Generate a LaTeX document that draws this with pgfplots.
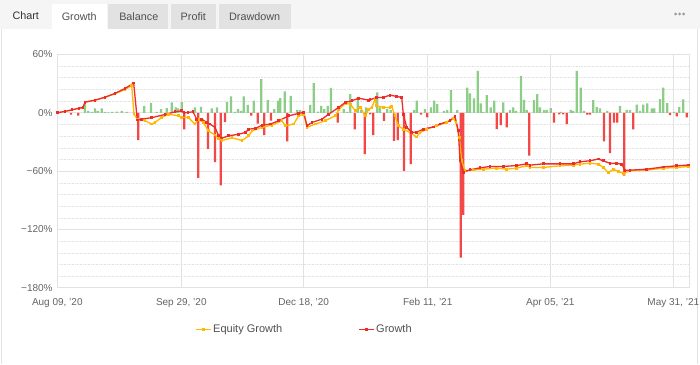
\documentclass[border=0pt]{standalone}
\usepackage{pgfplots}
\pgfplotsset{compat=1.18}
\usepackage{fontspec}
\setmainfont{Liberation Sans}
\definecolor{growthred}{RGB}{238,44,44}
\definecolor{equityorange}{RGB}{255,183,0}
\definecolor{bargreen}{RGB}{140,205,135}
\definecolor{barred}{RGB}{244,72,72}
\definecolor{tabgrey}{RGB}{226,226,226}
\definecolor{barbg}{RGB}{245,245,245}
\definecolor{gridgrey}{RGB}{226,226,226}
\definecolor{labelgrey}{RGB}{100,100,100}
\definecolor{tabtext}{RGB}{80,80,80}

\pgfplotstableread{
x y
85 9.7
88.3 2
91.7 1
95 4.5
97.7 2
101.7 4.5
105 1
108.3 0.5
112.3 1
116.7 1.3
121.7 2
126.7 1
144.3 7.2
151 10
156.7 1
161 3.8
166.7 4.8
171.7 10.7
175.7 5.5
178.3 4.5
181.7 11.3
195 5.5
201 6.2
211.7 4.5
217 5.5
227 11.3
231 16.8
234.7 1
238 3.8
241 2
243.7 16.8
247.7 8.2
253.7 12.4
261.3 34.7
267.7 13
274.3 3.8
278 12.4
280.3 15
284.7 22
290.7 17.5
297.3 2.7
300.3 2.7
310.3 8.2
313.7 30.6
318 1.3
321.3 7.2
324.3 3.8
327.7 7.2
331 25.7
343.7 3.8
347.3 1
350.3 19.2
357.7 16.5
361.3 2.7
366 5.5
377.3 21
380 5.5
387.3 3.8
390.7 2.7
414 3
416.7 12.4
425 3.8
431 5.5
434.3 12.4
437.3 9
444 2
447.3 2.7
451 23.4
457.3 2.7
467.3 26
470 20
474 14.8
477.7 43.2
480.7 9.7
483.3 1
486.7 18.2
490.7 5.5
494.3 12.4
503.3 10.7
510 2.7
513.3 5.5
516 2
521 38
524 13.4
526.7 2.7
534 13
537.3 19.2
540 5.5
544 2.7
546.7 3
550.7 4.8
560.7 1
570.7 3
573.3 2
576.7 43.2
580.7 26
584 2
593.3 13
596.7 5.8
600 4.5
607.3 2
620 7.2
626.7 3
630 2.7
636.7 8.5
640 2
643.3 8.5
647.3 9.7
651.7 4.5
654.3 4.5
660 14
663.3 26
667.3 10
674 1
679.3 5.8
683.3 13.7
}\greenbars

\pgfplotstableread{
x y
71 -2
78.3 -3
138.3 -28
184.3 -17
198.3 -67
208 -37
215 -50.7
220.7 -74.7
225 -9.6
251.3 -3
257.7 -11
264.3 -23
271 -8
287.3 -29.4
337.7 -10
354.7 -17
364.7 -42.5
370.3 -1.5
373.3 -23
384 -8.2
394 -28.8
397.7 -28
404 -59.7
410.7 -52.8
421 -2
427.3 -4.8
460.7 -149
463.3 -105
496.7 -16.8
500.7 -12.7
506.7 -15
529.3 -44
554 -10
559.3 -1.5
563.3 -1.5
566.7 -11.6
587.3 -2
590 -2
604 -29.4
610 -41.5
614 -10
617.3 -10
624.3 -64.5
633.3 -17
670 -2.3
676.7 -3.8
686.7 -4.8
}\redbars

\pgfplotstableread{
x y
57.3 0
65 1.5
72 3
79 4.5
83 5
85 11
95 13
105 16
115 19.5
125 24
131.7 28
134 -1.3
137.3 -6.5
145 -8.2
151.7 -11.6
155 -9.9
161.7 -4.8
168.3 -1.4
178.3 -3.1
181.7 -4.8
188.3 -4.8
195 -11.6
198.3 -6.5
203.3 -9.9
208.3 -18.5
215 -22.9
218.7 -26.7
222 -28.5
232 -25.7
242 -28.5
248.7 -23.7
252 -18.5
262 -15
272 -12.7
282 -8.2
285.3 -13.4
293.7 -11.6
298.7 -3.1
303.7 -1.4
307 -15
315.3 -11.6
325.3 -8.2
335.3 -3.1
338.7 2.8
345.3 9.7
350.3 8.9
355.3 2
360.3 5.5
365.3 -3.1
368.7 3.8
372 5.5
375 14.1
376.7 7.2
383.3 5.5
390 5.5
391.7 6.5
395 -3.1
398.3 -13.4
403.3 -16.8
410 -20.3
416.7 -24.8
420 -20.3
426.7 -16.8
436.7 -13.4
446.7 -9.9
453.3 -5.5
456 -9.9
459.3 -25.4
461.7 -49.3
465 -59.6
473.3 -58.9
483.3 -57.9
496.7 -56.9
506.7 -57.9
516.7 -56.9
526.7 -54.5
530 -56.2
543.3 -56.2
560 -54.5
573.3 -53.8
580 -52.8
590 -51.8
598.3 -52.8
603.3 -56.2
608.3 -61.4
613.3 -58
618.3 -60.3
623.3 -62.4
630 -59.6
646.7 -58.9
663.3 -56.9
676.7 -56.2
688.3 -55.2
}\equity

\pgfplotstableread{
x y
57.3 0
65 1.5
72 3
79 4.8
83 5.5
85 11
95 13
105 16
115 20
125 25
133.7 30.6
137.3 -7.5
141.7 -6.5
151.7 -5
165 -1.7
175 1
181.7 2
184 0
188 0.4
193 1
196.7 -6.5
201.7 -6.5
206.7 -9.9
210 -11.6
215 -15
218.7 -23.7
222 -26
228.7 -23.7
238.7 -22
245.3 -20.3
248.7 -16.8
255.3 -16.1
262 -12.7
270.3 -11.6
278.7 -8.2
288.7 -3.1
298.7 -0.6
303.7 0.4
307 -13.4
312 -9.9
322 -6.5
328.7 -1.4
338.7 5.5
345.3 10.7
352 12.4
358.7 15
368.7 13
370 13.4
376.7 15.8
383.3 15.8
390 18.2
396.7 16.8
401.7 15.8
403.3 -1.4
406.7 -15
411.7 -20
416.7 -20
423.3 -16.8
433.3 -14.5
440 -11.6
450 -8.2
455 -3.7
458.3 -18.5
460 -49.3
463.3 -61
470 -58.6
480 -56.6
490 -55.2
503.3 -55.2
516.7 -54.2
526.7 -52.5
530 -53.8
543.3 -52.5
560 -52.5
573.3 -52.5
580 -50.4
590 -49.3
598.3 -47.6
603.3 -49.3
610 -52
616.7 -52
621.7 -52.8
625 -59
630 -59
646.7 -58
663.3 -55.7
676.7 -54.5
688.3 -53.7
}\growth

\begin{document}
\begin{tikzpicture}[x=1pt,y=1pt]
\path[use as bounding box, fill=white] (0,0) rectangle (700,364);
% top tab bar
\fill[barbg] (0,335) rectangle (700,364);
\fill[white] (52,335) rectangle (107,360);
\fill[tabgrey] (108,335) rectangle (168,360);
\fill[tabgrey] (171,335) rectangle (216,360);
\fill[tabgrey] (219,335) rectangle (291,360);
\draw[gridgrey, line width=0.8pt] (1.5,0) -- (1.5,335);
\draw[gridgrey, line width=0.8pt] (697.5,0) -- (697.5,335);
\node[font=\fontsize{10.8}{13}\selectfont, text=black!80] at (25.8,348) {Chart};
\node[font=\fontsize{10.8}{13}\selectfont, text=tabtext] at (79.2,347.5) {Growth};
\node[font=\fontsize{10.8}{13}\selectfont, text=tabtext] at (138.8,347.5) {Balance};
\node[font=\fontsize{10.8}{13}\selectfont, text=tabtext] at (193.3,347.5) {Profit};
\node[font=\fontsize{10.8}{13}\selectfont, text=tabtext] at (254.7,347.5) {Drawdown};
\fill[black!40] (675.5,350) circle (1.5) (679.5,350) circle (1.5) (683.5,350) circle (1.5);

\begin{axis}[
  at={(57.3,78.3)}, anchor=south west,
  scale only axis, width=631.7pt, height=233.4pt,
  xmin=57.3, xmax=689, ymin=-180, ymax=60,
  xtick={57.3,181.3,303.7,427.7,550.3,673.3},
  xticklabels={{Aug 09, '20},{Sep 29, '20},{Dec 18, '20},{Feb 11, '21},{Apr 05, '21},{May 31, '21}},
  ytick={-180,-120,-60,0,60},
  yticklabels={−180\%,−120\%,−60\%,0\%,60\%},
  minor ytick={-168,-156,-144,-132,-108,-96,-84,-72,-48,-36,-24,-12,12,24,36,48},
  major tick length=0pt, minor tick length=0pt,
  xmajorgrids, ymajorgrids, yminorgrids,
  major grid style={gridgrey, line width=0.8pt},
  minor grid style={gridgrey, line width=0.6pt, densely dotted},
  axis line style={gridgrey, line width=1pt},
  tick label style={font=\fontsize{10}{12}\selectfont, text=labelgrey},
  /pgf/number format/assume math mode=true,
  yticklabel style={inner sep=0pt, xshift=-4.5pt},
  xticklabel style={inner sep=0pt, yshift=-10pt},
  legend style={at={(axis description cs:0.391,-0.177)}, anchor=center,
    draw=none, fill=none, font=\fontsize{11}{13}\selectfont, text=tabtext,
    /tikz/every even column/.append style={column sep=74pt},
    nodes={inner sep=1.8pt}},
  legend columns=2,
  legend image code/.code={\draw[#1, mark repeat=2, mark phase=2] plot coordinates {(0pt,0pt) (7.5pt,0pt) (15pt,0pt)};},
]
\addplot[ybar, bar width=2.3, bar shift=0pt, draw=none, fill=bargreen, forget plot] table[x=x,y=y] {\greenbars};
\addplot[ybar, bar width=2.3, bar shift=0pt, draw=none, fill=barred, forget plot] table[x=x,y=y] {\redbars};
\addplot[equityorange, line width=1.3pt, mark=square*, mark size=0.75pt, mark options={solid, draw=none, fill=equityorange!85!black}] table[x=x,y=y] {\equity};
\addlegendentry{Equity Growth}
\addplot[growthred, line width=1.3pt, mark=square*, mark size=0.75pt, mark options={solid, draw=none, fill=growthred!85!black}] table[x=x,y=y] {\growth};
\addlegendentry{Growth}
\end{axis}
\end{tikzpicture}
\end{document}
